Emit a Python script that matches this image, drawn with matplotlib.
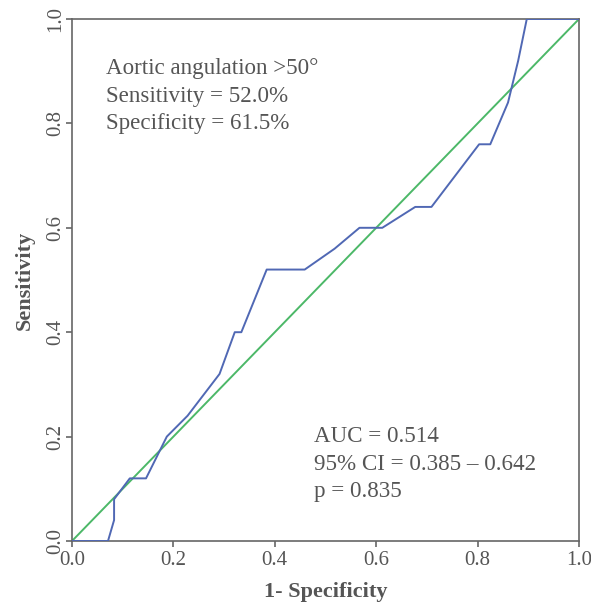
import matplotlib
matplotlib.use("Agg")
import matplotlib.pyplot as plt

fpr = [0.0, 0.071, 0.083, 0.083, 0.114, 0.146, 0.187, 0.228, 0.291, 0.321, 0.334,
       0.384, 0.459, 0.518, 0.567, 0.612, 0.677, 0.709, 0.803, 0.825, 0.86, 0.88, 0.897, 1.0]
tpr = [0.0, 0.0, 0.04, 0.08, 0.12, 0.12, 0.20, 0.24, 0.32, 0.40, 0.40,
       0.52, 0.52, 0.56, 0.60, 0.60, 0.64, 0.64, 0.76, 0.76, 0.84, 0.92, 1.0, 1.0]
ref_x = [0.0, 1.0]
ref_y = [0.0, 1.0]
ticks = [0.0, 0.2, 0.4, 0.6, 0.8, 1.0]
tick_labels = ["0.0", "0.2", "0.4", "0.6", "0.8", "1.0"]

plt.rcParams['font.family'] = ['Liberation Serif', 'DejaVu Serif']
gray = '#555555'

fig = plt.figure(figsize=(5.91, 6.04), dpi=100)
ax = fig.add_axes([72/591, 1-541/604, 507/591, 522/604])

ax.plot(ref_x, ref_y, color='#4cb868', lw=1.4, zorder=2)
ax.plot(fpr, tpr, color='#5068b4', lw=1.4, zorder=3)

ax.set_xlim(0, 1)
ax.set_ylim(0, 1)
ax.set_xticks(ticks)
ax.set_xticklabels(tick_labels)
ax.set_yticks(ticks)
ax.set_yticklabels(tick_labels, rotation=90, va='center')
for s in ax.spines.values():
    s.set_color('#666666')
    s.set_linewidth(1.2)
ax.tick_params(axis='both', colors='#666666', labelcolor=gray, labelsize=15,
               length=4, width=1.2, direction='out')
ax.tick_params(axis='x', pad=3)
ax.tick_params(axis='y', pad=1)

ax.set_xlabel('1- Specificity', fontsize=16, fontweight='bold', color=gray, labelpad=9)
ax.set_ylabel('Sensitivity', fontsize=16, fontweight='bold', color=gray, labelpad=8)

ax.text(0.068, 0.852, 'Aortic angulation >50\u00b0\nSensitivity = 52.0%\nSpecificity = 61.5%',
        transform=ax.transAxes, fontsize=16.6, color=gray, va='center', ha='left',
        linespacing=1.42)
ax.text(0.478, 0.1475, 'AUC = 0.514\n95% CI = 0.385 \u2013 0.642\np = 0.835',
        transform=ax.transAxes, fontsize=16.6, color=gray, va='center', ha='left',
        linespacing=1.42)

fig.savefig('out.png', dpi=100)
